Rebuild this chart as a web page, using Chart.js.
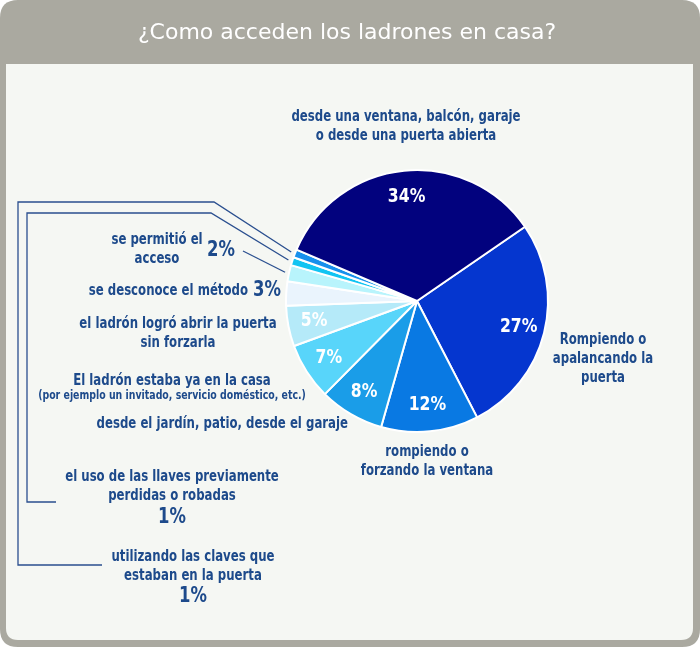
<!DOCTYPE html>
<html>
<head>
<meta charset="utf-8">
<script src="https://cdn.jsdelivr.net/npm/chart.js@4.4.1/dist/chart.umd.min.js"></script>
<style>
  html, body { margin: 0; padding: 0; background: #ffffff; }
  #wrap { width: 700px; height: 647px; }
</style>
</head>
<body>
<div id="wrap"><canvas id="chart-ladrones" width="700" height="647"></canvas></div>
<script>
// Datos (orden en el sentido de las agujas del reloj)
let labels = [
    'Rompiendo o apalancando la puerta',
    'rompiendo o forzando la ventana',
    'desde el jardín, patio, desde el garaje',
    'El ladrón estaba ya en la casa',
    'el ladrón logró abrir la puerta sin forzarla',
    'se desconoce el método',
    'se permitió el acceso',
    'el uso de las llaves previamente perdidas o robadas',
    'utilizando las claves que estaban en la puerta',
    'desde una ventana, balcón, garaje o desde una puerta abierta'
];
let values = [27, 12, 8, 7, 5, 3, 2, 1, 1, 34];
let colors = ['#0536cf', '#0979e3', '#1a9de8', '#58d5fa', '#b5eaf9', '#eaf4fd', '#b8f4fc', '#12c4f2', '#1790ec', '#02027e'];
let titleText = '¿Como acceden los ladrones en casa?';

const FONT = '"DejaVu Sans Condensed", "Liberation Sans Narrow", sans-serif';
const TXT = '#1d4a8b';
const SQUEEZE = 0.87;

// Textos alrededor del gráfico
let textBlocks = [
    { x: 406, y: 117, lines: ['desde una ventana, balcón, garaje', 'o desde una puerta abierta'] },
    { x: 603, y: 340, lines: ['Rompiendo o', 'apalancando la', 'puerta'] },
    { x: 427, y: 452, lines: ['rompiendo o', 'forzando la ventana'] },
    { x: 348, y: 424, align: 'right', lines: ['desde el jardín, patio, desde el garaje'] },
    { x: 172, y: 381, lines: ['El ladrón estaba ya en la casa'] },
    { x: 172, y: 396, size: 12, lines: ['(por ejemplo un invitado, servicio doméstico, etc.)'] },
    { x: 178, y: 324, lines: ['el ladrón logró abrir la puerta', 'sin forzarla'] },
    { x: 248, y: 291, align: 'right', lines: ['se desconoce el método'] },
    { x: 253, y: 291, align: 'left', size: 21, lines: ['3%'] },
    { x: 157, y: 240, lines: ['se permitió el', 'acceso'] },
    { x: 207, y: 251, align: 'left', size: 21, lines: ['2%'] },
    { x: 172, y: 477, lines: ['el uso de las llaves previamente', 'perdidas o robadas'] },
    { x: 172, y: 518, size: 21, lines: ['1%'] },
    { x: 193, y: 557, lines: ['utilizando las claves que', 'estaban en la puerta'] },
    { x: 193, y: 597, size: 21, lines: ['1%'] }
];

// Líneas guía hacia las porciones pequeñas (índice de la porción + puntos de quiebre)
let leaders = [
    { index: 8, pts: [[102, 565], [18, 565], [18, 202], [214, 202]] },
    { index: 7, pts: [[56, 502], [27, 502], [27, 213], [211, 213]] },
    { index: 6, pts: [[243, 251]] }
];

function roundRect(ctx, x, y, w, h, r) {
    ctx.beginPath();
    ctx.moveTo(x + r, y);
    ctx.lineTo(x + w - r, y);
    ctx.quadraticCurveTo(x + w, y, x + w, y + r);
    ctx.lineTo(x + w, y + h - r);
    ctx.quadraticCurveTo(x + w, y + h, x + w - r, y + h);
    ctx.lineTo(x + r, y + h);
    ctx.quadraticCurveTo(x, y + h, x, y + h - r);
    ctx.lineTo(x, y + r);
    ctx.quadraticCurveTo(x, y, x + r, y);
    ctx.closePath();
}

// texto estrecho (la fuente original es condensada)
function narrowText(ctx, t, x, y) {
    ctx.save();
    ctx.translate(x, y);
    ctx.scale(SQUEEZE, 1);
    ctx.fillText(t, 0, 0);
    ctx.restore();
}

const framePlugin = {
    id: 'frame',
    beforeDraw(chart) {
        const ctx = chart.ctx;
        ctx.save();
        ctx.fillStyle = '#ffffff';
        ctx.fillRect(0, 0, chart.width, chart.height);
        ctx.fillStyle = '#aaa9a0';
        roundRect(ctx, 0, 0, 700, 647, 18);
        ctx.fill();
        ctx.fillStyle = '#f5f7f3';
        ctx.beginPath();
        ctx.moveTo(6, 64);
        ctx.lineTo(693, 64);
        ctx.lineTo(693, 628);
        ctx.quadraticCurveTo(693, 640, 681, 640);
        ctx.lineTo(18, 640);
        ctx.quadraticCurveTo(6, 640, 6, 628);
        ctx.closePath();
        ctx.fill();

        // título
        ctx.fillStyle = '#ffffff';
        ctx.font = '22px "DejaVu Sans", "Liberation Sans", sans-serif';
        ctx.textAlign = 'center';
        ctx.textBaseline = 'middle';
        ctx.fillText(titleText, 347, 33);
        ctx.restore();
    }
};

const labelsPlugin = {
    id: 'sliceLabels',
    afterDatasetsDraw(chart) {
        const ctx = chart.ctx;
        const meta = chart.getDatasetMeta(0);
        ctx.save();
        ctx.textBaseline = 'middle';

        // porcentajes dentro de las porciones grandes
        ctx.fillStyle = '#ffffff';
        ctx.font = 'bold 20px ' + FONT;
        ctx.textAlign = 'center';
        meta.data.forEach((arc, i) => {
            if (values[i] < 5) return;
            const p = arc.getProps(['x', 'y', 'startAngle', 'endAngle', 'outerRadius'], true);
            const mid = (p.startAngle + p.endAngle) / 2;
            const r = p.outerRadius * 0.8;
            narrowText(ctx, values[i] + '%', p.x + Math.cos(mid) * r, p.y + Math.sin(mid) * r);
        });

        // líneas guía
        ctx.strokeStyle = '#2a4f8f';
        ctx.lineWidth = 1.3;
        leaders.forEach(l => {
            const p = meta.data[l.index].getProps(['x', 'y', 'startAngle', 'endAngle', 'outerRadius'], true);
            const mid = (p.startAngle + p.endAngle) / 2;
            const r = p.outerRadius + 4;
            ctx.beginPath();
            ctx.moveTo(l.pts[0][0], l.pts[0][1]);
            for (let k = 1; k < l.pts.length; k++) ctx.lineTo(l.pts[k][0], l.pts[k][1]);
            ctx.lineTo(p.x + Math.cos(mid) * r, p.y + Math.sin(mid) * r);
            ctx.stroke();
        });

        // textos
        ctx.fillStyle = TXT;
        textBlocks.forEach(b => {
            const size = b.size || 15;
            ctx.font = 'bold ' + size + 'px ' + FONT;
            ctx.textAlign = b.align || 'center';
            b.lines.forEach((t, k) => narrowText(ctx, t, b.x, b.y + k * 19));
        });
        ctx.restore();
    }
};

let ctxPie = document.getElementById('chart-ladrones').getContext('2d');

let chartPie = new Chart(ctxPie, {
    type: 'pie',
    data: {
        labels: labels,
        datasets: [{
            data: values,
            backgroundColor: colors,
            borderColor: '#ffffff',
            borderWidth: 2,
            hoverOffset: 0,
            radius: 131
        }]
    },
    options: {
        responsive: false,
        animation: false,
        rotation: 55.5,
        layout: {
            padding: { left: 277, right: 143, top: 161, bottom: 206 }
        },
        plugins: {
            legend: { display: false },
            tooltip: { enabled: false },
            title: { display: false }
        }
    },
    plugins: [framePlugin, labelsPlugin]
})
</script>
</body>
</html>
